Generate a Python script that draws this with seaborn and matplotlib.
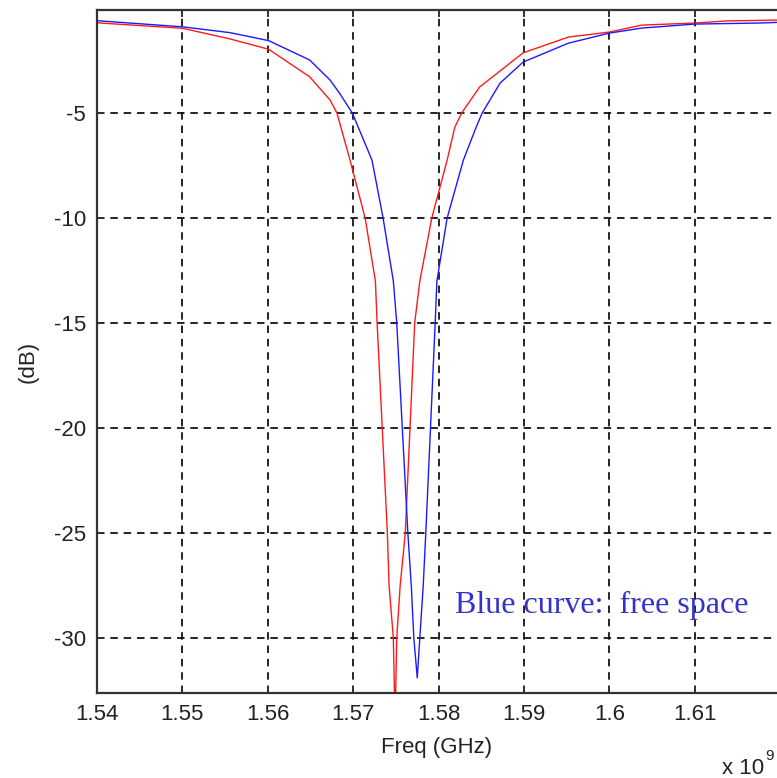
import matplotlib
matplotlib.use("Agg")
import matplotlib.pyplot as plt
import seaborn as sns
import pandas as pd

# ---- data (frequency in units of 1e9 Hz, return loss in dB) ----
red_freq = [1.5400, 1.5500, 1.5556, 1.5601, 1.5649, 1.5673, 1.5681, 1.5696,
            1.5714, 1.5726, 1.5728, 1.5740, 1.5742, 1.5747, 1.5749, 1.5751,
            1.5755, 1.5761, 1.5772, 1.5778, 1.5792, 1.5810, 1.5819, 1.5827,
            1.5848, 1.5899, 1.5952, 1.6000, 1.6038, 1.6100, 1.6138, 1.6196]
red_db = [-0.70, -0.96, -1.47, -1.96, -3.27, -4.38, -5.00, -7.20,
          -10.0, -13.0, -15.0, -25.0, -27.5, -30.0, -34.0, -30.0,
          -27.5, -25.0, -15.0, -13.0, -10.0, -7.24, -5.67, -5.00,
          -3.76, -2.13, -1.38, -1.14, -0.81, -0.71, -0.61, -0.57]

blue_freq = [1.5400, 1.5500, 1.5556, 1.5601, 1.5649, 1.5673, 1.5684, 1.5699,
             1.5722, 1.5735, 1.5747, 1.5751, 1.5764, 1.5768, 1.5771, 1.5775,
             1.5778, 1.5782, 1.5785, 1.5796, 1.5798, 1.5810, 1.5829, 1.5844,
             1.5851, 1.5872, 1.5899, 1.5952, 1.6000, 1.6038, 1.6100, 1.6176,
             1.6196]
blue_db = [-0.60, -0.89, -1.17, -1.55, -2.47, -3.43, -4.05, -5.00,
           -7.24, -10.0, -13.0, -15.0, -25.0, -27.5, -30.0, -31.9,
           -30.0, -27.5, -25.0, -15.0, -13.0, -10.0, -7.24, -5.67,
           -5.00, -3.57, -2.57, -1.67, -1.19, -0.95, -0.76, -0.71,
           -0.68]

x_ticks = [1.54, 1.55, 1.56, 1.57, 1.58, 1.59, 1.60, 1.61]
x_tick_labels = ["1.54", "1.55", "1.56", "1.57", "1.58", "1.59", "1.6", "1.61"]
y_ticks = [-30, -25, -20, -15, -10, -5]
y_tick_labels = ["-30", "-25", "-20", "-15", "-10", "-5"]

df = pd.concat([
    pd.DataFrame({"freq": red_freq, "db": red_db, "curve": "red"}),
    pd.DataFrame({"freq": blue_freq, "db": blue_db, "curve": "blue"}),
], ignore_index=True)

sns.set_theme(style="white")
plt.rcParams["font.family"] = ["Liberation Sans", "DejaVu Sans"]

W, H = 777, 778
fig = plt.figure(figsize=(W / 100, H / 100), dpi=100)
ax = fig.add_axes([97 / W, (H - 693) / H, (W - 97) / W, (693 - 10) / H])

sns.lineplot(data=df, x="freq", y="db", hue="curve",
             palette={"red": "#ff1a1a", "blue": "#1a1aff"},
             hue_order=["red", "blue"], sort=False, estimator=None,
             linewidth=1.0, legend=False, ax=ax)

ax.set_xlim(1.54, 1.54 + 680 / 8540)
ax.set_ylim(-32.62, -0.09)
ax.set_xticks(x_ticks)
ax.set_xticklabels(x_tick_labels)
ax.set_yticks(y_ticks)
ax.set_yticklabels(y_tick_labels)

ax.grid(True, color="black", linestyle=(0, (4.5, 3.5)), linewidth=1.2)
ax.set_axisbelow(True)
for side in ["left", "top", "bottom"]:
    ax.spines[side].set_visible(True)
    ax.spines[side].set_color("#333333")
    ax.spines[side].set_linewidth(1.6)
ax.spines["right"].set_visible(False)

ax.tick_params(axis="both", direction="in", length=5, width=1.4,
               color="#333333", labelsize=16, labelcolor="#222222",
               top=True, bottom=True, left=True, right=False, pad=8)

ax.set_xlabel("")
ax.set_ylabel("")

fig.text(437 / W, 1 - 748 / H, "Freq (GHz)", ha="center", va="center",
         fontsize=16, color="#222222")
fig.text(28 / W, 1 - 362 / H, "(dB)", ha="center", va="center",
         rotation=90, fontsize=16, color="#222222")
fig.text(764 / W, 1 - 768 / H, "x 10", ha="right", va="center",
         fontsize=16, color="#222222")
fig.text(765 / W, 1 - 756 / H, "9", ha="left", va="center",
         fontsize=11, color="#222222")

ax.text((455 - 97) / 680, (693 - 613) / 683, "Blue curve:  free space",
        transform=ax.transAxes, ha="left", va="baseline",
        fontsize=23, family=["Liberation Serif", "DejaVu Serif"],
        color="#3333cc")

fig.savefig("out.png", dpi=100)
